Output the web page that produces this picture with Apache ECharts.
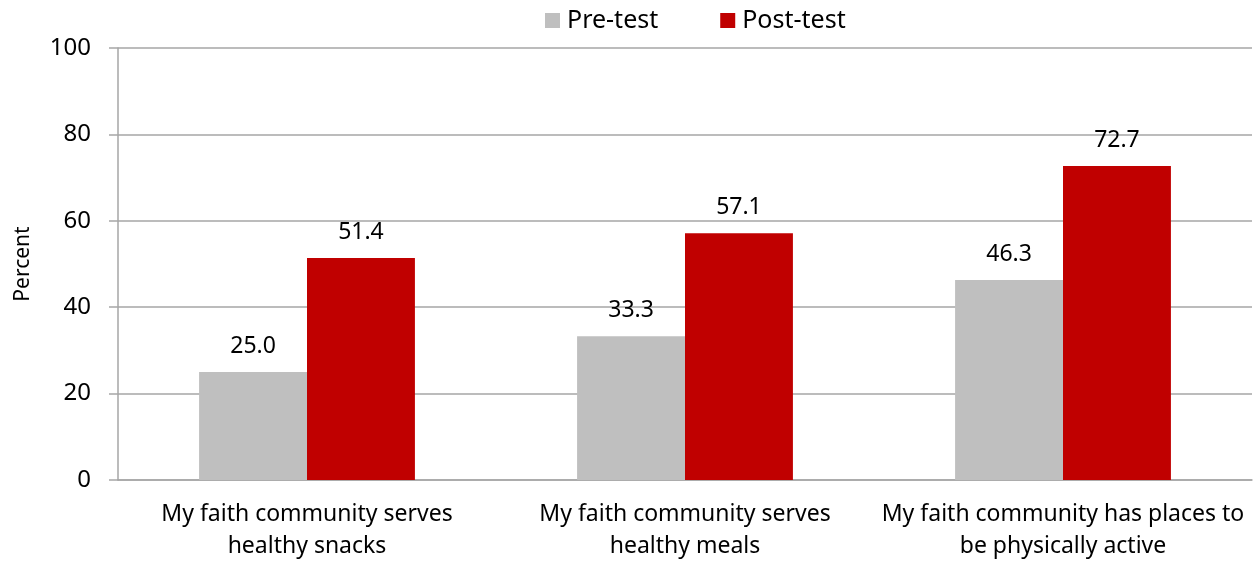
<!DOCTYPE html>
<html><head><meta charset="utf-8">
<script src="https://cdn.jsdelivr.net/npm/echarts@6/dist/echarts.min.js"></script>
<style>html,body{margin:0;padding:0;background:#fff}#c{width:1260px;height:562px}</style>
</head><body><div id="c"></div>
<script>
const categories = ["My faith community serves\nhealthy snacks", "My faith community serves\nhealthy meals", "My faith community has places to\nbe physically active"];
const preTest = [25.0, 33.3, 46.3];
const postTest = [51.4, 57.1, 72.7];
const seriesNames = ["Pre-test", "Post-test"];
const yTicks = [0, 20, 40, 60, 80, 100];

const FONT = "'Noto Sans', 'Open Sans', sans-serif";
const chart = echarts.init(document.getElementById('c'), null, {renderer: 'canvas'});
const lbl = {show: true, position: 'top', distance: 14, fontSize: 23, color: '#000', fontFamily: FONT, formatter: p => p.value.toFixed(1)};
chart.setOption({
  animation: false,
  textStyle: {fontFamily: FONT},
  legend: {
    top: 3, left: 540, itemWidth: 15, itemHeight: 15, itemGap: 62,
    icon: 'rect',
    textStyle: {fontSize: 25, color: '#000', fontFamily: FONT, padding: [0,0,0,2]},
    data: seriesNames
  },
  grid: {left: 118, right: 8, top: 48, bottom: 81},
  xAxis: {
    type: 'category', data: categories,
    axisLine: {lineStyle: {color: '#A6A6A6', width: 1.5}},
    axisTick: {show: false},
    axisLabel: {fontSize: 23, color: '#000', fontFamily: FONT, lineHeight: 32, margin: 18, interval: 0}
  },
  yAxis: {
    type: 'value', min: yTicks[0], max: yTicks[yTicks.length-1], interval: 20,
    name: 'Percent', nameLocation: 'middle', nameGap: 84, nameRotate: 90,
    nameTextStyle: {fontSize: 21, color: '#000', fontFamily: FONT},
    axisLine: {show: true, lineStyle: {color: '#A6A6A6', width: 1.5}},
    axisTick: {show: true, inside: false, length: 9, lineStyle: {color: '#A6A6A6', width: 1.5}},
    axisLabel: {fontSize: 24, color: '#000', fontFamily: FONT, margin: 27},
    splitLine: {lineStyle: {color: '#A6A6A6', width: 1.5}}
  },
  series: [
    {name: seriesNames[0], type: 'bar', data: preTest, barGap: '0%', barCategoryGap: '42.9%',
     itemStyle: {color: '#BFBFBF'}, label: lbl},
    {name: seriesNames[1], type: 'bar', data: postTest,
     itemStyle: {color: '#C00000'}, label: lbl}
  ]
});
</script></body></html>
